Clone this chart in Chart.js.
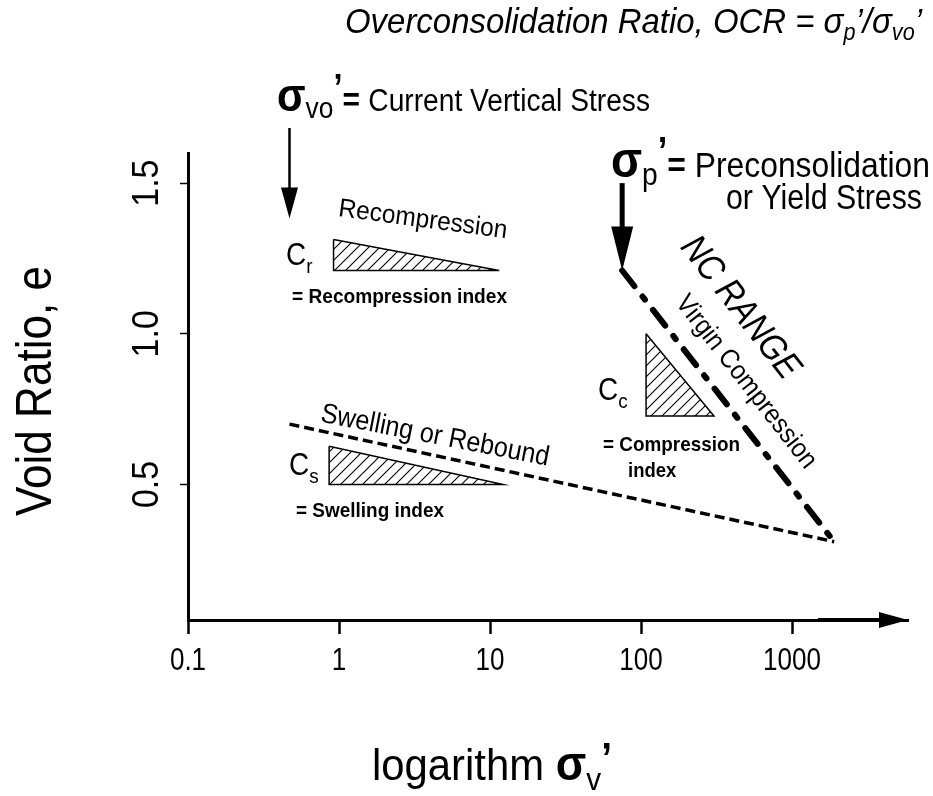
<!DOCTYPE html>
<html>
<head>
<meta charset="utf-8">
<script src="https://cdn.jsdelivr.net/npm/chart.js@4.4.1/dist/chart.umd.min.js"></script>
<style>
  html, body { margin: 0; padding: 0; background: #fff; }
  #wrap { width: 933px; height: 796px; }
</style>
</head>
<body>
<div id="wrap"><canvas id="consol-chart" width="933" height="796"></canvas></div>
<script>
const xTicks = [0.1, 1, 10, 100, 1000];
const xTickLabels = ['0.1', '1', '10', '100', '1000'];
const yTicks = [0.5, 1.0, 1.5];
const yTickLabels = ['0.5', '1.0', '1.5'];

// e - log(sigma) paths
const virginLine = [[75, 1.21], [1900, 0.31]];
const reboundLine = [[0.47, 0.70], [1900, 0.31]];

// slope triangles (hatched)
const crTriangle = [[0.92, 1.313], [0.92, 1.21], [11.5, 1.21]];
const csTriangle = [[0.86, 0.627], [0.86, 0.50], [12.2, 0.50]];
const ccTriangle = [[108, 1.0], [108, 0.727], [304, 0.727]];

// stress markers: [top, tip]
const svoArrow = [[0.47, 1.683], [0.47, 1.383]];
const spArrow = [[75, 1.50], [75, 1.21]];

const SANS = '"Liberation Sans", Arial, Helvetica, sans-serif';

function hatch(step) {
  const c = document.createElement('canvas');
  c.width = c.height = step;
  const g = c.getContext('2d');
  g.strokeStyle = '#000';
  g.lineWidth = 1.1;
  g.beginPath();
  g.moveTo(0, step); g.lineTo(step, 0);
  g.moveTo(-step / 2, step / 2); g.lineTo(step / 2, -step / 2);
  g.moveTo(step / 2, step * 1.5); g.lineTo(step * 1.5, step / 2);
  g.stroke();
  return g.createPattern(c, 'repeat');
}
const hatchFill = hatch(11);

const pts = arr => arr.map(([x, y]) => ({ x, y }));
const tri = arr => ({
  data: pts([...arr, arr[0]]),
  borderColor: '#000',
  borderWidth: 1.5,
  backgroundColor: hatchFill,
  fill: 'shape',
  showLine: true,
  pointRadius: 0,
  tension: 0
});

// text runs: [{t, font, dy}] drawn one after another, optionally squeezed to a width
function drawRich(ctx, parts, x, y, opt = {}) {
  const { align = 'left', angle = 0, width = null, sx: fixedSx = 1, baseline = 'alphabetic' } = opt;
  ctx.save();
  let total = 0;
  parts.forEach(p => { ctx.font = p.font; p.w = ctx.measureText(p.t).width; total += p.w; });
  const sx = width ? width / total : fixedSx;
  ctx.translate(x, y);
  ctx.rotate(angle * Math.PI / 180);
  ctx.scale(sx, 1);
  let cx = align === 'left' ? 0 : align === 'right' ? -total : -total / 2;
  ctx.textBaseline = baseline;
  ctx.fillStyle = '#000';
  parts.forEach(p => { ctx.font = p.font; ctx.fillText(p.t, cx, p.dy || 0); cx += p.w; });
  ctx.restore();
}

function arrow(ctx, xs, ys, seg, lw, hw, hl) {
  const x0 = xs.getPixelForValue(seg[0][0]), y0 = ys.getPixelForValue(seg[0][1]);
  const x1 = xs.getPixelForValue(seg[1][0]), y1 = ys.getPixelForValue(seg[1][1]);
  const len = Math.hypot(x1 - x0, y1 - y0);
  ctx.save();
  ctx.translate(x1, y1);
  ctx.rotate(Math.atan2(y1 - y0, x1 - x0));
  ctx.fillStyle = ctx.strokeStyle = '#000';
  ctx.lineWidth = lw;
  ctx.beginPath(); ctx.moveTo(-len, 0); ctx.lineTo(-hl + 2, 0); ctx.stroke();
  ctx.beginPath(); ctx.moveTo(0, 0); ctx.lineTo(-hl, -hw / 2); ctx.lineTo(-hl, hw / 2); ctx.closePath(); ctx.fill();
  ctx.restore();
}

const decorations = {
  id: 'decorations',
  afterDraw(chart) {
    const { ctx, chartArea: a, scales: { x, y } } = chart;

    // arrow end of the stress axis
    ctx.save();
    ctx.fillStyle = ctx.strokeStyle = '#000';
    ctx.lineWidth = 4;
    ctx.beginPath(); ctx.moveTo(a.right - 90, a.bottom); ctx.lineTo(a.right - 26, a.bottom); ctx.stroke();
    ctx.beginPath();
    ctx.moveTo(a.right, a.bottom); ctx.lineTo(a.right - 29, a.bottom - 8); ctx.lineTo(a.right - 29, a.bottom + 8);
    ctx.closePath(); ctx.fill();
    ctx.restore();

    // tick labels, narrow face
    xTicks.forEach((v, i) => drawRich(ctx, [{ t: xTickLabels[i], font: '31px ' + SANS }],
      x.getPixelForValue(v), 661, { align: 'center', baseline: 'middle', sx: 0.84 }));
    yTicks.forEach((v, i) => drawRich(ctx, [{ t: yTickLabels[i], font: '37px ' + SANS }],
      148, y.getPixelForValue(v), { align: 'center', angle: -90, baseline: 'middle', sx: 0.92 }));

    arrow(ctx, x, y, svoArrow, 2.5, 17, 31);
    arrow(ctx, x, y, spArrow, 5, 22, 44);

    // axis titles
    drawRich(ctx, [{ t: 'Void Ratio, e', font: '50px ' + SANS }], 51, 391,
      { align: 'center', angle: -90, width: 250 });
    drawRich(ctx, [
      { t: 'logarithm ', font: '45px ' + SANS },
      { t: 'σ', font: 'bold 48px ' + SANS },
      { t: 'v', font: '32px ' + SANS, dy: 10 },
      { t: '’', font: 'bold 42px ' + SANS, dy: -8 }
    ], 372, 780, { width: 240 });

    // title
    drawRich(ctx, [
      { t: 'Overconsolidation Ratio, OCR = ', font: 'italic 35px ' + SANS },
      { t: 'σ', font: 'italic 35px ' + SANS },
      { t: 'p', font: 'italic 23px ' + SANS, dy: 7 },
      { t: '’/', font: 'italic 35px ' + SANS },
      { t: 'σ', font: 'italic 35px ' + SANS },
      { t: 'vo', font: 'italic 23px ' + SANS, dy: 7 },
      { t: '’', font: 'italic 35px ' + SANS }
    ], 922, 33, { align: 'right', width: 577 });

    drawRich(ctx, [
      { t: 'σ', font: 'bold 46px ' + SANS },
      { t: 'vo', font: '29px ' + SANS, dy: 7 },
      { t: '’', font: 'bold 36px ' + SANS, dy: -11 },
      { t: '= ', font: 'bold 33px ' + SANS },
      { t: 'Current Vertical Stress', font: '31px ' + SANS }
    ], 277, 111, { width: 373 });

    drawRich(ctx, [
      { t: 'σ', font: 'bold 50px ' + SANS },
      { t: 'p', font: '31px ' + SANS, dy: 8 },
      { t: '’', font: 'bold 38px ' + SANS, dy: -13 },
      { t: '= ', font: 'bold 35px ' + SANS },
      { t: 'Preconsolidation', font: '35px ' + SANS }
    ], 611, 177, { width: 319 });
    drawRich(ctx, [{ t: 'or Yield Stress', font: '35px ' + SANS }], 922, 209, { align: 'right', width: 196 });

    // slope labels
    drawRich(ctx, [{ t: 'Recompression', font: '26px ' + SANS }], 423, 220,
      { align: 'center', angle: 7.5, baseline: 'middle', width: 170 });
    drawRich(ctx, [{ t: 'Swelling or Rebound', font: '28px ' + SANS }], 435, 436,
      { align: 'center', angle: 11, baseline: 'middle', width: 232 });
    drawRich(ctx, [{ t: 'NC RANGE', font: 'italic 37px ' + SANS }], 740, 308,
      { align: 'center', angle: 52, baseline: 'middle', width: 170 });
    drawRich(ctx, [{ t: 'Virgin Compression', font: '27px ' + SANS }], 746, 382,
      { align: 'center', angle: 52, baseline: 'middle', width: 212 });

    const cLabel = (sub, x0, y0) => drawRich(ctx, [
      { t: 'C', font: '31px ' + SANS },
      { t: sub, font: '21px ' + SANS, dy: 8 }
    ], x0, y0, { sx: 0.9 });
    cLabel('r', 286, 265);
    cLabel('s', 289, 475);
    cLabel('c', 598, 400);

    const idx = 'bold 21px ' + SANS;
    drawRich(ctx, [{ t: '= Recompression index', font: idx }], 292, 303, { width: 215 });
    drawRich(ctx, [{ t: '= Swelling index', font: idx }], 296, 517, { width: 148 });
    drawRich(ctx, [{ t: '= Compression', font: idx }], 603, 451, { width: 137 });
    drawRich(ctx, [{ t: 'index', font: idx }], 628, 477, { sx: 0.88 });
  }
};

new Chart(document.getElementById('consol-chart').getContext('2d'), {
  type: 'scatter',
  data: {
    datasets: [
      tri(crTriangle),
      tri(csTriangle),
      tri(ccTriangle),
      {
        data: pts(reboundLine),
        showLine: true,
        borderColor: '#000',
        borderWidth: 3.5,
        borderDash: [10, 5],
        pointRadius: 0,
        fill: false
      },
      {
        data: pts(virginLine),
        showLine: true,
        borderColor: '#000',
        borderWidth: 6,
        borderDash: [20, 13, 4, 13],
        borderCapStyle: 'round',
        pointRadius: 0,
        fill: false
      }
    ]
  },
  options: {
    responsive: false,
    devicePixelRatio: 1,
    animation: false,
    layout: { padding: { top: 153, right: 25, left: 0, bottom: 0 } },
    plugins: { legend: { display: false }, tooltip: { enabled: false } },
    scales: {
      x: {
        type: 'logarithmic',
        min: 0.1,
        max: 5860,
        afterBuildTicks: s => { s.ticks = xTicks.map(value => ({ value })); },
        afterFit: s => { s.height = 176; },
        border: { display: true, color: '#000', width: 3 },
        grid: { drawOnChartArea: false, drawTicks: true, tickLength: 14, tickWidth: 2.5, tickColor: '#000' },
        ticks: { display: false }
      },
      y: {
        min: 0.05,
        max: 1.6,
        afterBuildTicks: s => { s.ticks = yTicks.map(value => ({ value })); },
        afterFit: s => { s.width = 188; },
        border: { display: true, color: '#000', width: 3 },
        grid: { drawOnChartArea: false, drawTicks: true, tickLength: 8, tickWidth: 1.5, tickColor: '#000' },
        ticks: { display: false }
      }
    }
  },
  plugins: [decorations]
});
</script>
</body>
</html>
